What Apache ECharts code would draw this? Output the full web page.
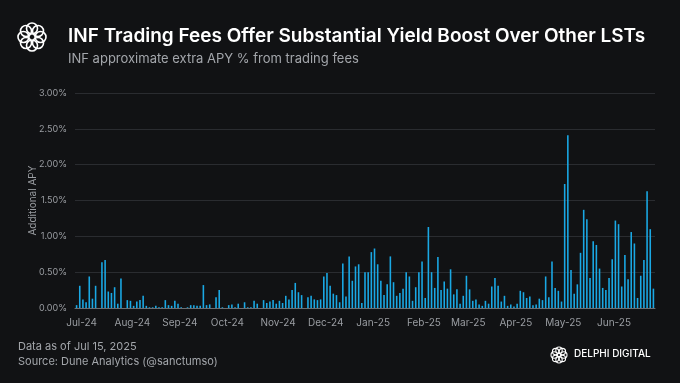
<!DOCTYPE html>
<html>
<head>
<meta charset="utf-8">
<script src="https://cdn.jsdelivr.net/npm/echarts@6/dist/echarts.min.js"></script>
<style>
html,body{margin:0;padding:0;background:#111214;}
#c{width:680px;height:383px;}
</style>
</head>
<body>
<div id="c"></div>
<script>
// Bars every 2 days starting 2024-07-01; values in % (additional APY)
const startDate = '2024-07-01';
const stepDays = 2;
const jul24 = [0.04,0.31,0.12,0.08,0.44,0.13,0.31,0,0.64,0.67,0.23,0.21,0.29,0.06,0.41,0];
const aug24 = [0.11,0.10,0.03,0.09,0.11,0.17,0.03,0.01,0.01,0.03,0.01,0.01,0.11,0.04,0.03];
const sep24 = [0.10,0.06,0.01,0,0.01,0.04,0.04,0.03,0.03,0.32,0.04,0.05,0,0.15,0.25];
const oct24 = [0.01,0,0.04,0.05,0.01,0.06,0,0.08,0.01,0.01,0.10,0.06,0,0.11,0.07,0.09];
const nov24 = [0.11,0.06,0.10,0.07,0.17,0.12,0.25,0.35,0.22,0.18,0,0.15,0.17,0.12,0.11];
const dec24 = [0.12,0.44,0.49,0.31,0.20,0.18,0.08,0.62,0.16,0.72,0.38,0.58,0.61,0.07,0.50];
const jan25 = [0.50,0.78,0.83,0.61,0.38,0.18,0.33,0.72,0.36,0.17,0.21,0.27,0.50,0.44,0.10,0.29];
const feb25 = [0.50,0.65,0.14,1.13,0.50,0.28,0.71,0.25,0.37,0.27,0.54,0.19,0.26,0.06];
const mar25 = [0.17,0.45,0.26,0.10,0.12,0.05,0.03,0.10,0.06,0.30,0.42,0.31,0.09,0.17,0.03];
const apr25 = [0.05,0.02,0.06,0.24,0.22,0.14,0.16,0.04,0.05,0.13,0.11,0.44,0.15,0.65,0.28];
const may25 = [0.24,0.09,1.73,2.41,0.53,0.20,0.33,0.77,1.37,1.24,0.42,0.93,0.88,0.55,0.28,0.25];
const jun25 = [0.42,0.68,1.22,1.17,0.30,0.74,0.40,1.06,0.90,0.14,0.45,0.67,1.63,1.10,0.27];
const yTicks = [0,0.5,1,1.5,2,2.5,3];
const monthNames = ['Jan','Feb','Mar','Apr','May','Jun','Jul','Aug','Sep','Oct','Nov','Dec'];

const values = [].concat(jul24,aug24,sep24,oct24,nov24,dec24,jan25,feb25,mar25,apr25,may25,jun25);
const categories = [];
(function(){
  const d0 = new Date(startDate + 'T00:00:00Z');
  for (let i = 0; i < values.length; i++) {
    const d = new Date(d0.getTime() + i * stepDays * 86400000);
    categories.push(d.toISOString().slice(0,10));
  }
})();
function monthKey(s){ return s.slice(0,7); }
function fmtMonth(s){
  const y = s.slice(2,4); const m = parseInt(s.slice(5,7),10);
  return monthNames[m-1] + '-' + y;
}

function logoRing(cx, cy, ringR, r, lw){
  const els = [];
  const n = 8;
  for (let k = 0; k < n; k++) {
    const a = k * 2 * Math.PI / n;
    els.push({type:'circle', shape:{cx: cx + ringR*Math.cos(a), cy: cy + ringR*Math.sin(a), r: r},
      style:{fill:'none', stroke:'#ffffff', lineWidth: lw}, silent:true});
  }
  return els;
}

const chart = echarts.init(document.getElementById('c'), null, {renderer:'canvas'});
const FONT = 'Inter, "Noto Sans", sans-serif';
chart.setOption({
  backgroundColor:'#111214',
  animation:false,
  grid:{left:75, right:25, top:93, bottom:75, containLabel:false},
  xAxis:{
    type:'category',
    data:categories,
    boundaryGap:true,
    axisLine:{show:true, lineStyle:{color:'#6b6e73', width:1}},
    axisTick:{show:false},
    axisLabel:{
      color:'#9a9da2', fontSize:10, fontFamily:FONT, margin:10,
      interval:function(idx, val){ return idx === 0 || monthKey(categories[idx-1]) !== monthKey(val); },
      formatter:function(val){ return fmtMonth(val); },
      padding:[0,0,0,10]
    },
    splitLine:{show:false}
  },
  yAxis:{
    type:'value', min:yTicks[0], max:yTicks[yTicks.length-1], interval:0.5,
    name:'Additional APY', nameLocation:'middle', nameGap:37, nameRotate:90,
    nameMoveOverlap:false,
    nameTextStyle:{color:'#9a9da2', fontSize:10, fontFamily:FONT},
    axisLine:{show:false}, axisTick:{show:false},
    axisLabel:{color:'#9a9da2', fontSize:9, fontFamily:FONT, margin:8,
      formatter:function(v){ return v.toFixed(2) + '%'; }},
    splitLine:{lineStyle:{color:'#2a2c30', width:1}}
  },
  series:[{
    type:'bar', data:values, barWidth:'50%',
    itemStyle:{color:'#1aa8e4'},
    silent:true
  }],
  graphic:[].concat(
    logoRing(32, 37, 8.5, 5.5, 1.6),
    logoRing(559, 355, 4.8, 3.2, 1.1),
    [
      {type:'text', left:68, top:27, style:{text:'INF Trading Fees Offer Substantial Yield Boost Over Other LSTs',
        fill:'#ffffff', font:'600 19px ' + FONT}},
      {type:'text', left:68, top:53, style:{text:'INF approximate extra APY % from trading fees',
        fill:'#a3a6ab', font:'400 13px ' + FONT}},
      {type:'text', left:18, top:341, style:{text:'Data as of Jul 15, 2025', fill:'#a3a6ab', font:'400 11px ' + FONT}},
      {type:'text', left:18, top:356, style:{text:'Source: Dune Analytics (@sanctumso)', fill:'#a3a6ab', font:'400 11px ' + FONT}},
      {type:'text', left:574, top:349, style:{text:'DELPHI DIGITAL', fill:'#ffffff', font:'500 10px ' + FONT}}
    ]
  )
});
</script>
</body>
</html>
